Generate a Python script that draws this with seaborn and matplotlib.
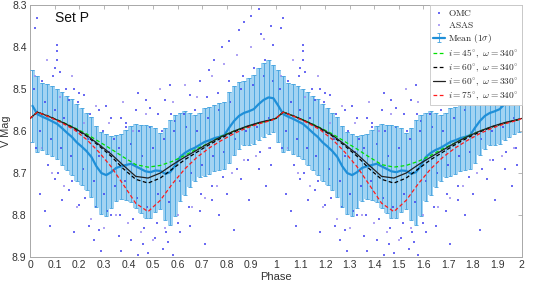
import matplotlib
matplotlib.use("Agg")
import matplotlib.pyplot as plt
import numpy as np
import pandas as pd
import seaborn as sns

# ---- binned mean light curve (one cycle, bin centres), shown twice ----
bin_phase = np.round(np.arange(0.01, 1.0, 0.02), 2)
mean_mag = [8.540, 8.560, 8.566, 8.571, 8.577, 8.583, 8.593, 8.604, 8.614, 8.627,
            8.637, 8.648, 8.662, 8.684, 8.700, 8.705, 8.698, 8.688, 8.684, 8.681,
            8.678, 8.684, 8.690, 8.696, 8.698, 8.694, 8.695, 8.702, 8.698, 8.682,
            8.662, 8.652, 8.645, 8.640, 8.633, 8.626, 8.622, 8.617, 8.614, 8.610,
            8.592, 8.576, 8.564, 8.557, 8.553, 8.548, 8.536, 8.526, 8.520, 8.522]
sigma_mag = [0.085, 0.090, 0.080, 0.083, 0.083, 0.084, 0.087, 0.088, 0.090, 0.092,
             0.092, 0.092, 0.095, 0.097, 0.098, 0.097, 0.085, 0.078, 0.078, 0.083,
             0.090, 0.100, 0.105, 0.110, 0.110, 0.100, 0.090, 0.110, 0.125, 0.120,
             0.105, 0.100, 0.088, 0.078, 0.076, 0.080, 0.080, 0.078, 0.080, 0.080,
             0.085, 0.082, 0.080, 0.076, 0.080, 0.082, 0.086, 0.088, 0.088, 0.080]

# ---- model light curves (one cycle) ----
model_phase = [0.00, 0.03, 0.08, 0.13, 0.18, 0.23, 0.28, 0.33, 0.38, 0.43, 0.48,
               0.53, 0.58, 0.63, 0.68, 0.73, 0.78, 0.83, 0.88, 0.93, 0.98, 1.00]
i45_w340 = [8.570, 8.555, 8.566, 8.578, 8.592, 8.607, 8.625, 8.643, 8.662, 8.680, 8.686,
            8.682, 8.672, 8.658, 8.642, 8.628, 8.612, 8.600, 8.590, 8.581, 8.574, 8.570]
i60_w340 = [8.570, 8.555, 8.566, 8.579, 8.594, 8.612, 8.635, 8.660, 8.690, 8.715, 8.724,
            8.712, 8.690, 8.668, 8.650, 8.632, 8.616, 8.602, 8.590, 8.581, 8.574, 8.570]
i60_w330 = [8.570, 8.555, 8.566, 8.579, 8.593, 8.610, 8.632, 8.655, 8.682, 8.708, 8.712,
            8.700, 8.680, 8.662, 8.645, 8.628, 8.613, 8.600, 8.589, 8.580, 8.573, 8.570]
i75_w340 = [8.570, 8.555, 8.567, 8.581, 8.597, 8.620, 8.650, 8.685, 8.728, 8.772, 8.792,
            8.765, 8.725, 8.690, 8.662, 8.640, 8.622, 8.606, 8.593, 8.583, 8.575, 8.570]

# ---- photometry (one cycle) ----
omc_phase = [0.03, 0.02, 0.11, 0.11, 0.11, 0.10, 0.12, 0.18, 0.20, 0.16, 0.22, 0.28, 0.31,
             0.33, 0.37, 0.39, 0.43, 0.44, 0.47, 0.49, 0.52, 0.55, 0.57, 0.59, 0.65, 0.69,
             0.73, 0.75, 0.78, 0.81, 0.85, 0.87, 0.90, 0.93, 0.94, 0.98, 0.99,
             0.04, 0.06, 0.08, 0.10, 0.13, 0.16, 0.18, 0.20, 0.24, 0.26, 0.28, 0.29, 0.33,
             0.36, 0.37, 0.41, 0.44, 0.46, 0.48, 0.51, 0.54, 0.56, 0.58, 0.61, 0.65, 0.69,
             0.71, 0.74, 0.77, 0.80, 0.83, 0.86, 0.89, 0.93, 0.96, 0.98,
             0.015, 0.04, 0.06, 0.085, 0.10, 0.125, 0.14, 0.165, 0.19, 0.215, 0.235, 0.26,
             0.28, 0.30, 0.32, 0.345, 0.36, 0.385, 0.41, 0.435, 0.455, 0.475, 0.50, 0.52,
             0.545, 0.565, 0.585, 0.61, 0.635, 0.655, 0.68, 0.70, 0.725, 0.745, 0.77, 0.79,
             0.815, 0.835, 0.86, 0.88, 0.905, 0.925, 0.95, 0.97, 0.99,
             0.025, 0.05, 0.075, 0.095, 0.115, 0.145, 0.17, 0.195, 0.225, 0.245, 0.27, 0.295,
             0.315, 0.34, 0.365, 0.39, 0.42, 0.445, 0.465, 0.49, 0.515, 0.535, 0.555, 0.575,
             0.60, 0.625, 0.645, 0.67, 0.695, 0.72, 0.74, 0.765, 0.785, 0.81, 0.84, 0.865,
             0.885, 0.91, 0.935, 0.955, 0.975]
omc_mag = [8.330, 8.355, 8.395, 8.410, 8.430, 8.450, 8.460, 8.500, 8.510, 8.525, 8.515, 8.550, 8.540,
           8.570, 8.570, 8.590, 8.550, 8.510, 8.525, 8.545, 8.560, 8.525, 8.490, 8.575, 8.515, 8.480,
           8.455, 8.430, 8.400, 8.385, 8.360, 8.340, 8.325, 8.310, 8.370, 8.350, 8.395,
           8.750, 8.790, 8.825, 8.715, 8.765, 8.740, 8.840, 8.775, 8.825, 8.860, 8.835, 8.885, 8.800,
           8.850, 8.885, 8.860, 8.895, 8.870, 8.890, 8.855, 8.880, 8.865, 8.895, 8.840, 8.825, 8.790,
           8.870, 8.765, 8.800, 8.750, 8.835, 8.715, 8.765, 8.690, 8.730, 8.680,
           8.500, 8.600, 8.530, 8.620, 8.550, 8.640, 8.570, 8.660, 8.600, 8.690, 8.620, 8.720,
           8.660, 8.750, 8.650, 8.730, 8.640, 8.720, 8.630, 8.760, 8.660, 8.780, 8.640, 8.750,
           8.620, 8.770, 8.600, 8.720, 8.590, 8.700, 8.600, 8.680, 8.570, 8.660, 8.550, 8.650,
           8.530, 8.620, 8.500, 8.600, 8.490, 8.590, 8.470, 8.570, 8.480,
           8.640, 8.480, 8.680, 8.470, 8.700, 8.500, 8.720, 8.530, 8.760, 8.560, 8.780, 8.600,
           8.790, 8.620, 8.800, 8.580, 8.810, 8.600, 8.830, 8.590, 8.820, 8.600, 8.840, 8.560,
           8.820, 8.560, 8.780, 8.550, 8.750, 8.520, 8.730, 8.510, 8.710, 8.480, 8.690, 8.470,
           8.670, 8.450, 8.650, 8.430, 8.640]
asas_phase = [0.02, 0.05, 0.07, 0.09, 0.12, 0.14, 0.17, 0.19, 0.22, 0.25, 0.27, 0.30, 0.32,
              0.35, 0.38, 0.40, 0.42, 0.45, 0.47, 0.50, 0.53, 0.55, 0.58, 0.60, 0.63, 0.66,
              0.68, 0.71, 0.74, 0.76, 0.79, 0.82, 0.84, 0.87, 0.90, 0.92, 0.95, 0.97]
asas_mag = [8.470, 8.640, 8.430, 8.700, 8.520, 8.730, 8.470, 8.780, 8.580, 8.810, 8.540, 8.830, 8.580,
            8.800, 8.530, 8.820, 8.600, 8.840, 8.560, 8.860, 8.500, 8.830, 8.530, 8.800, 8.490, 8.780,
            8.520, 8.760, 8.470, 8.730, 8.440, 8.700, 8.420, 8.670, 8.400, 8.660, 8.380, 8.640]

BAR_FILL = "#a2d3f2"
BAR_EDGE = "#42a1de"
MEAN_COL = "#1f8fd8"


def two_cycles(phase, values, drop_last=False):
    p = np.asarray(phase, dtype=float)
    v = np.asarray(values, dtype=float)
    if drop_last:
        return np.concatenate([p[:-1], p + 1]), np.concatenate([v[:-1], v])
    return np.concatenate([p, p + 1]), np.concatenate([v, v])


sns.set_theme(style="white")
plt.rcParams["font.family"] = ["Liberation Sans", "DejaVu Sans"]
plt.rcParams["mathtext.fontset"] = "cm"

fig = plt.figure(figsize=(5.33, 2.87), dpi=100)
ax = fig.add_axes([0.0563, 0.1045, 0.9226, 0.878])

# error bar band
ph, mu = two_cycles(bin_phase, mean_mag)
_, sg = two_cycles(bin_phase, sigma_mag)
ax.fill_between(ph, mu - sg, mu + sg, step="mid", color=BAR_FILL, lw=0, zorder=1)

# photometry
op, om = two_cycles(omc_phase, omc_mag)
ap, am = two_cycles(asas_phase, asas_mag)
sns.scatterplot(x=op, y=om, ax=ax, color="#3a3af0", marker="s", s=2.5, linewidth=0,
                alpha=0.75, label="OMC", zorder=2)
sns.scatterplot(x=ap, y=am, ax=ax, color="#9d8df2", marker="s", s=2.5, linewidth=0,
                alpha=0.8, label="ASAS", zorder=2)

# mean with 1 sigma bars
ax.errorbar(ph, mu, yerr=sg, color=MEAN_COL, ecolor=BAR_EDGE, lw=1.6, elinewidth=0.6,
            capsize=1.7, capthick=0.6, label="Mean", zorder=3)

# models
models = [
    (i45_w340, "#00e000", (3, 2), r"$i = 45^{\circ},\ \omega = 340^{\circ}$"),
    (i60_w340, "black", (3, 2), r"$i = 60^{\circ},\ \omega = 340^{\circ}$"),
    (i60_w330, "#222222", None, r"$i = 60^{\circ},\ \omega = 330^{\circ}$"),
    (i75_w340, "#ff1a1a", (3, 2), r"$i = 75^{\circ},\ \omega = 340^{\circ}$"),
]
for vals, col, dash, lab in models:
    mp, mv = two_cycles(model_phase, vals, drop_last=True)
    sns.lineplot(x=mp, y=mv, ax=ax, color=col, lw=0.9, estimator=None,
                 sort=False, label=lab, zorder=4)
    if dash is not None:
        ax.lines[-1].set_dashes(dash)

ax.set_xlim(0, 2)
ax.set_ylim(8.9, 8.3)
xt = np.round(np.arange(0, 2.01, 0.1), 1)
ax.set_xticks(xt)
ax.set_xticklabels([f"{t:g}" for t in xt])
ax.set_yticks([8.3, 8.4, 8.5, 8.6, 8.7, 8.8, 8.9])
ax.set_yticklabels(["8.3", "8.4", "8.5", "8.6", "8.7", "8.8", "8.9"])
ax.tick_params(direction="in", top=True, right=True, length=3, width=0.5,
               color="#9a9a9a", labelcolor="#333333", labelsize=7.5, pad=2.5)
for sp in ax.spines.values():
    sp.set_color("#a8a8a8")
    sp.set_linewidth(0.7)

ax.set_xlabel("Phase", fontsize=8, color="#333333", labelpad=1)
ax.set_ylabel("V Mag", fontsize=7.8, color="#333333")
ax.yaxis.set_label_coords(-0.038, 0.5)
ax.text(0.05, 0.975, "Set P", transform=ax.transAxes, fontsize=10, va="top", ha="left",
        color="#111111")

# legend in reference order: OMC, ASAS, Mean, models
handles, labels = ax.get_legend_handles_labels()
order = ["OMC", "ASAS", "Mean"] + [m[3] for m in models]
pretty = {"OMC": r"$\mathrm{OMC}$", "ASAS": r"$\mathrm{ASAS}$",
          "Mean": r"$\mathrm{Mean\ (1\sigma)}$"}
hmap = dict(zip(labels, handles))
leg = ax.legend([hmap[k] for k in order], [pretty.get(k, k) for k in order],
                loc="upper right", fontsize=6.8, handlelength=1.3, handletextpad=0.3,
                borderpad=0.3, labelspacing=0.22, borderaxespad=0.0, framealpha=1,
                fancybox=False, edgecolor="#c8c8c8", markerscale=0.9)
leg.get_frame().set_linewidth(0.6)

fig.savefig("out.png", dpi=100)
